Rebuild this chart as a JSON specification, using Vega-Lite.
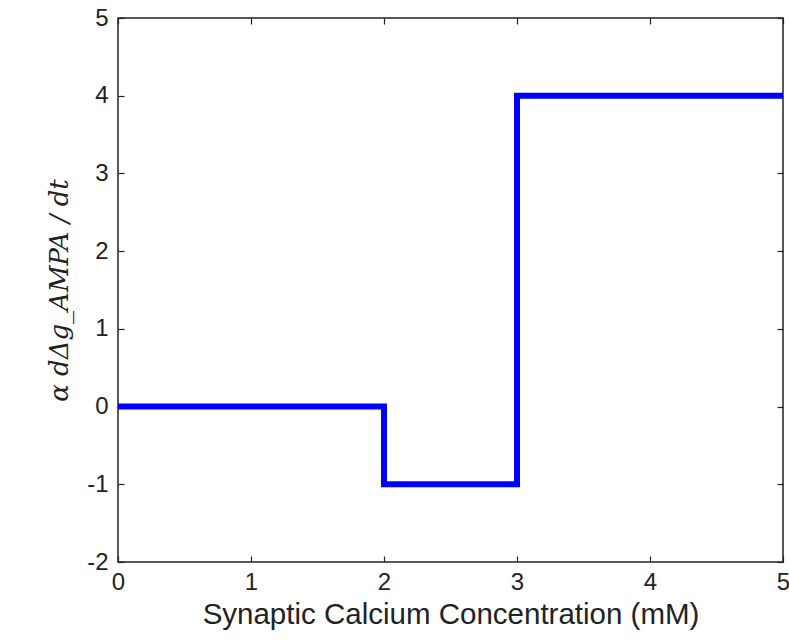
{
  "$schema": "https://vega.github.io/schema/vega-lite/v6.json",
  "width": 665,
  "height": 544,
  "autosize": {"type": "none"},
  "padding": {"left": 118, "top": 18, "right": 6, "bottom": 78},
  "background": "white",
  "config": {
    "view": {"stroke": "#222", "strokeWidth": 1.5},
    "axis": {
      "grid": false,
      "domain": false,
      "labelFlush": false,
      "tickColor": "#222",
      "tickSize": -6,
      "tickWidth": 1.2,
      "labelFont": "Liberation Sans",
      "labelFontSize": 24,
      "labelColor": "#222",
      "titleFont": "Liberation Sans",
      "titleFontSize": 29.5,
      "titleFontWeight": "normal",
      "titleColor": "#222"
    }
  },
  "data": {
    "values": [
      {"i": 0, "x": 0, "y": 0},
      {"i": 1, "x": 2, "y": 0},
      {"i": 2, "x": 2, "y": -1},
      {"i": 3, "x": 3, "y": -1},
      {"i": 4, "x": 3, "y": 4},
      {"i": 5, "x": 5, "y": 4}
    ]
  },
  "layer": [
    {
      "mark": {"type": "line", "color": "#0000FF", "strokeWidth": 6, "strokeJoin": "miter", "strokeCap": "butt"},
      "encoding": {
        "x": {
          "field": "x", "type": "quantitative",
          "scale": {"domain": [0, 5], "nice": false, "zero": false},
          "axis": {"values": [0, 1, 2, 3, 4, 5], "labelExpr": "'' + datum.value", "title": "Synaptic Calcium Concentration (mM)", "labelPadding": 14, "titlePadding": 6}
        },
        "y": {
          "field": "y", "type": "quantitative",
          "scale": {"domain": [-2, 5], "nice": false, "zero": false},
          "axis": {"values": [-2, -1, 0, 1, 2, 3, 4, 5], "labelExpr": "'' + datum.value", "title": "α dΔg_AMPA / dt", "titleFont": "DejaVu Serif", "titleFontStyle": "italic", "titleFontSize": 26, "labelPadding": 16, "titlePadding": 14}
        },
        "order": {"field": "i", "type": "quantitative"}
      }
    },
    {
      "mark": {"type": "line", "opacity": 0},
      "encoding": {
        "x": {
          "field": "x", "type": "quantitative",
          "scale": {"domain": [0, 5], "nice": false, "zero": false},
          "axis": {"orient": "top", "values": [0, 1, 2, 3, 4, 5], "labels": false, "title": null}
        },
        "y": {
          "field": "y", "type": "quantitative",
          "scale": {"domain": [-2, 5], "nice": false, "zero": false},
          "axis": {"orient": "right", "values": [-2, -1, 0, 1, 2, 3, 4, 5], "labels": false, "title": null}
        },
        "order": {"field": "i", "type": "quantitative"}
      }
    }
  ],
  "resolve": {"axis": {"x": "independent", "y": "independent"}}
}
